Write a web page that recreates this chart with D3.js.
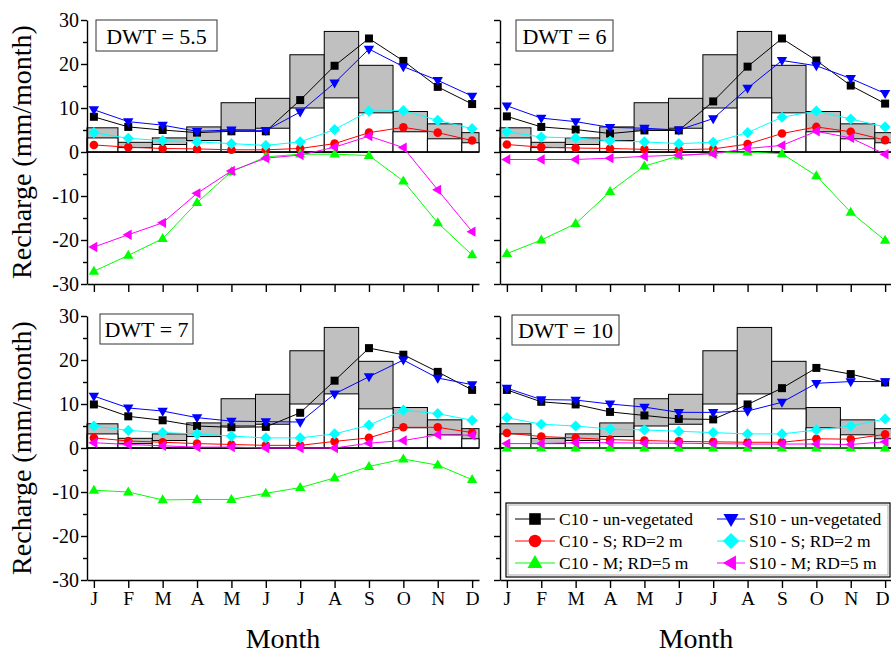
<!DOCTYPE html>
<html>
<head>
<meta charset="utf-8">
<script src="https://cdn.jsdelivr.net/npm/d3@7"></script>
<style>
  html, body { margin: 0; padding: 0; background: #fff; }
  svg { display: block; }
  text { font-family: "Liberation Serif", "Times New Roman", serif; fill: #000; }
</style>
</head>
<body>
<svg id="chart" width="891" height="653"></svg>
<script>
// Month tick labels
const months = ["J", "F", "M", "A", "M", "J", "J", "A", "S", "O", "N", "D"];
const monthIndex = [1, 2, 3, 4, 5, 6, 7, 8, 9, 10, 11, 12];

// Background columns (same in all four panels)
const greyBars  = [5.5, 2.2, 3.2, 5.7, 11.2, 12.2, 22.1, 27.4, 19.7, 9.2, 6.4, 4.4];
const whiteBars = [3.2, 1.0, 1.7, 2.6, 5.0, 5.4, 10.0, 12.3, 8.9, 4.6, 3.0, 2.1];

// Panel titles (water-table depth)
const dwtLabels = ["DWT = 5.5", "DWT = 6", "DWT = 7", "DWT = 10"];

// Monthly recharge per series; one row per panel in the order of dwtLabels
const c10Unveg = [
  [8.0, 5.7, 5.0, 4.4, 4.7, 4.7, 11.8, 19.6, 25.8, 20.7, 14.8, 10.9],
  [8.1, 5.7, 5.1, 4.2, 4.9, 4.9, 11.5, 19.4, 25.8, 20.8, 15.1, 11.0],
  [9.9, 7.2, 6.3, 5.0, 4.7, 4.8, 8.0, 15.3, 22.7, 21.2, 17.3, 13.2],
  [13.2, 10.5, 9.9, 8.2, 7.4, 6.6, 6.5, 9.9, 13.6, 18.2, 16.8, 14.9]
];
const s10Unveg = [
  [9.6, 6.9, 6.1, 4.7, 5.0, 4.9, 9.1, 15.7, 23.4, 19.4, 16.3, 12.7],
  [10.5, 7.7, 6.9, 5.6, 5.4, 5.0, 7.6, 14.5, 20.8, 19.6, 16.7, 13.3],
  [11.8, 9.1, 8.4, 6.9, 6.1, 6.0, 5.9, 12.3, 16.2, 20.0, 15.9, 14.4],
  [13.6, 11.0, 10.9, 10.0, 9.3, 8.1, 8.1, 8.4, 10.4, 14.7, 15.1, 15.1]
];
const c10Shallow = [
  [1.6, 1.1, 0.8, 0.7, 0.5, 0.5, 0.8, 1.9, 4.4, 5.6, 4.4, 2.6],
  [1.7, 1.1, 0.9, 0.8, 0.6, 0.5, 0.7, 1.8, 4.2, 5.7, 4.6, 2.7],
  [2.3, 1.6, 1.3, 1.0, 0.8, 0.6, 0.6, 1.5, 2.3, 4.7, 4.7, 3.5],
  [3.4, 2.6, 2.3, 1.9, 1.7, 1.5, 1.4, 1.3, 1.3, 2.1, 2.0, 3.1]
];
const s10Shallow = [
  [4.4, 3.1, 2.6, 2.3, 1.9, 1.5, 2.3, 5.1, 9.3, 9.4, 7.2, 5.3],
  [4.6, 3.4, 3.2, 2.5, 2.3, 1.9, 2.2, 4.4, 7.9, 9.3, 7.5, 5.7],
  [5.0, 4.0, 3.5, 3.2, 2.7, 2.3, 2.3, 3.2, 5.2, 8.6, 7.8, 6.3],
  [6.9, 5.4, 5.0, 4.3, 4.1, 3.8, 3.5, 3.2, 3.2, 4.1, 5.0, 6.6]
];
const c10Medium = [
  [-27.1, -23.5, -19.7, -11.5, -4.5, -1.1, -0.5, -0.5, -0.8, -6.6, -16.1, -23.4],
  [-23.1, -20.0, -16.3, -9.0, -3.2, -0.9, -0.2, 0.0, -0.4, -5.4, -13.7, -20.1],
  [-9.6, -10.0, -11.8, -11.7, -11.7, -10.3, -9.0, -6.8, -4.2, -2.5, -3.9, -7.2],
  [0.0, 0.0, 0.0, 0.0, 0.0, 0.0, 0.0, 0.0, 0.0, 0.0, 0.0, 0.0]
];
const s10Medium = [
  [-21.6, -18.8, -16.1, -9.4, -4.3, -1.4, -0.7, 1.1, 3.6, 1.0, -8.6, -18.1],
  [-1.7, -1.7, -1.7, -1.4, -1.0, -0.7, -0.4, 0.8, 1.5, 4.7, 3.2, -0.5],
  [1.2, 0.8, 0.5, 0.2, 0.2, 0.0, 0.0, 0.0, 1.1, 1.7, 3.0, 2.9],
  [1.0, 1.0, 1.2, 1.2, 1.1, 1.1, 1.0, 0.9, 0.9, 0.9, 0.8, 1.4]
];

// Series styling, in legend order (two columns, three rows)
const seriesDefs = [
  { name: "C10 - un-vegetated", data: c10Unveg,   color: "#000000", shape: "square",  col: 0, row: 0 },
  { name: "S10 - un-vegetated", data: s10Unveg,   color: "#0000ff", shape: "triDown", col: 1, row: 0 },
  { name: "C10 - S; RD=2 m",    data: c10Shallow, color: "#ff0000", shape: "circle",  col: 0, row: 1 },
  { name: "S10 - S; RD=2 m",    data: s10Shallow, color: "#00ffff", shape: "diamond", col: 1, row: 1 },
  { name: "C10 - M; RD=5 m",    data: c10Medium,  color: "#00ff00", shape: "triUp",   col: 0, row: 2 },
  { name: "S10 - M; RD=5 m",    data: s10Medium,  color: "#ff00ff", shape: "triLeft", col: 1, row: 2 }
];
const drawOrder = [0, 2, 4, 1, 3, 5];

// Marker outlines, scaled by k
function markerPath(shape, k) {
  const p = d3.path();
  const s = k;
  switch (shape) {
    case "square":
      p.rect(-4 * s, -4 * s, 8 * s, 8 * s); break;
    case "circle":
      p.arc(0, 0, 4.3 * s, 0, 2 * Math.PI); break;
    case "triUp":
      p.moveTo(0, -5.6 * s); p.lineTo(5.2 * s, 3.4 * s); p.lineTo(-5.2 * s, 3.4 * s); p.closePath(); break;
    case "triDown":
      p.moveTo(0, 5.6 * s); p.lineTo(5.2 * s, -3.4 * s); p.lineTo(-5.2 * s, -3.4 * s); p.closePath(); break;
    case "triLeft":
      p.moveTo(-5.6 * s, 0); p.lineTo(3.4 * s, -5.2 * s); p.lineTo(3.4 * s, 5.2 * s); p.closePath(); break;
    case "diamond":
      p.moveTo(0, -5.6 * s); p.lineTo(5.6 * s, 0); p.lineTo(0, 5.6 * s); p.lineTo(-5.6 * s, 0); p.closePath(); break;
  }
  return p.toString();
}

const svg = d3.select("#chart");

const colRanges = [[87, 479], [500, 892]];
const rowRanges = [[284, 20], [580, 316]];
const xDomain = [0.8, 12.2];
const yDomain = [-30, 30];

const panels = [
  { col: 0, row: 0, box: [96, 20, 121, 31] },
  { col: 1, row: 0, box: [516, 20, 97, 31] },
  { col: 0, row: 1, box: [100, 314, 93, 30] },
  { col: 1, row: 1, box: [512, 315, 107, 30] }
];

panels.forEach((pn, pi) => {
  const x = d3.scaleLinear().domain(xDomain).range(colRanges[pn.col]);
  const y = d3.scaleLinear().domain(yDomain).range(rowRanges[pn.row]);
  const g = svg.append("g");

  // background columns, clipped to the plotting range
  const barSpan = m => [Math.max(xDomain[0], m - 0.3), Math.min(xDomain[1], m + 0.7)];
  [[greyBars, "#c0c0c0"], [whiteBars, "#ffffff"]].forEach(([vals, fill]) => {
    g.append("g").selectAll("rect")
      .data(vals)
      .join("rect")
      .attr("x", (d, i) => x(barSpan(monthIndex[i])[0]))
      .attr("width", (d, i) => x(barSpan(monthIndex[i])[1]) - x(barSpan(monthIndex[i])[0]))
      .attr("y", d => y(d))
      .attr("height", d => y(0) - y(d))
      .attr("fill", fill)
      .attr("stroke", "#000")
      .attr("stroke-width", 1);
  });

  // zero line
  g.append("line")
    .attr("x1", x(xDomain[0])).attr("x2", x(xDomain[1]))
    .attr("y1", y(0)).attr("y2", y(0))
    .attr("stroke", "#000").attr("stroke-width", 1.6);

  // series
  drawOrder.forEach(si => {
    const s = seriesDefs[si];
    const vals = s.data[pi];
    const line = d3.line().x((d, i) => x(monthIndex[i])).y(d => y(d));
    g.append("path")
      .datum(vals)
      .attr("d", line)
      .attr("fill", "none")
      .attr("stroke", s.color)
      .attr("stroke-width", 1);
    g.append("g").selectAll("path")
      .data(vals)
      .join("path")
      .attr("transform", (d, i) => `translate(${x(monthIndex[i])},${y(d)})`)
      .attr("d", markerPath(s.shape, 1))
      .attr("fill", s.color);
  });

  // y axis: major ticks every 10, minor every 5
  const yAxis = d3.axisLeft(y)
    .tickValues(d3.range(-30, 31, 10))
    .tickSize(6)
    .tickSizeOuter(0)
    .tickPadding(2)
    .tickFormat(d => pn.col === 0 ? String(d) : "");
  const ya = g.append("g")
    .attr("transform", `translate(${x(xDomain[0])},0)`)
    .call(yAxis);
  ya.selectAll("text").style("font-size", "20px").style("font-family", "'Liberation Serif', serif");
  const yMinor = d3.axisLeft(y)
    .tickValues(d3.range(-25, 30, 10))
    .tickSize(4)
    .tickSizeOuter(0)
    .tickFormat("");
  const ym = g.append("g")
    .attr("transform", `translate(${x(xDomain[0])},0)`)
    .call(yMinor);
  ym.select(".domain").remove();

  // x axis
  const xAxis = d3.axisBottom(x)
    .tickValues(monthIndex)
    .tickSize(8)
    .tickSizeOuter(0)
    .tickPadding(3)
    .tickFormat((d, i) => pn.row === 1 ? months[i] : "");
  const xa = g.append("g")
    .attr("transform", `translate(0,${y(yDomain[0])})`)
    .call(xAxis);
  xa.selectAll("text").style("font-size", "19.5px").style("font-family", "'Liberation Serif', serif");
  // keep the last month label of the right-hand column inside the page
  if (pn.col === 1) {
    xa.selectAll("text").filter((d, i) => i === 11).attr("dx", "-3");
  }

  [ya, ym, xa].forEach(a => {
    a.selectAll("path, line").attr("stroke", "#000").attr("stroke-width", 1.4);
  });

  // DWT label box
  const [bx, by, bw, bh] = pn.box;
  g.append("rect")
    .attr("x", bx).attr("y", by).attr("width", bw).attr("height", bh)
    .attr("fill", "#fff").attr("stroke", "#333").attr("stroke-width", 1);
  g.append("text")
    .attr("x", bx + bw / 2).attr("y", by + bh / 2 + 8)
    .attr("text-anchor", "middle")
    .style("font-size", "22px")
    .text(dwtLabels[pi]);
});

// axis titles
[152, 448].forEach(cy => {
  svg.append("text")
    .attr("transform", `translate(31,${cy}) rotate(-90)`)
    .attr("text-anchor", "middle")
    .style("font-size", "28px")
    .text("Recharge (mm/month)");
});
[283, 696].forEach(cx => {
  svg.append("text")
    .attr("x", cx).attr("y", 648)
    .attr("text-anchor", "middle")
    .style("font-size", "28px")
    .text("Month");
});

// legend inside the lower-right panel
const lg = svg.append("g");
lg.append("rect")
  .attr("x", 506).attr("y", 503).attr("width", 384).attr("height", 74)
  .attr("fill", "#fff").attr("stroke", "#000").attr("stroke-width", 1.2);
lg.append("rect")
  .attr("x", 508).attr("y", 505).attr("width", 380).attr("height", 70)
  .attr("fill", "none").attr("stroke", "#999").attr("stroke-width", 0.8);
const legCols = [{ lx0: 515, lx1: 555, mx: 535, tx: 559 }, { lx0: 717, lx1: 745, mx: 731, tx: 749 }];
const legRows = [519, 541, 563];
seriesDefs.forEach(s => {
  const c = legCols[s.col], ry = legRows[s.row];
  lg.append("line")
    .attr("x1", c.lx0).attr("x2", c.lx1).attr("y1", ry).attr("y2", ry)
    .attr("stroke", s.color).attr("stroke-width", 1);
  lg.append("path")
    .attr("transform", `translate(${c.mx},${ry})`)
    .attr("d", markerPath(s.shape, 1.45))
    .attr("fill", s.color);
  lg.append("text")
    .attr("x", c.tx).attr("y", ry + 6)
    .style("font-size", "17.5px")
    .text(s.name);
});
</script>
</body>
</html>
